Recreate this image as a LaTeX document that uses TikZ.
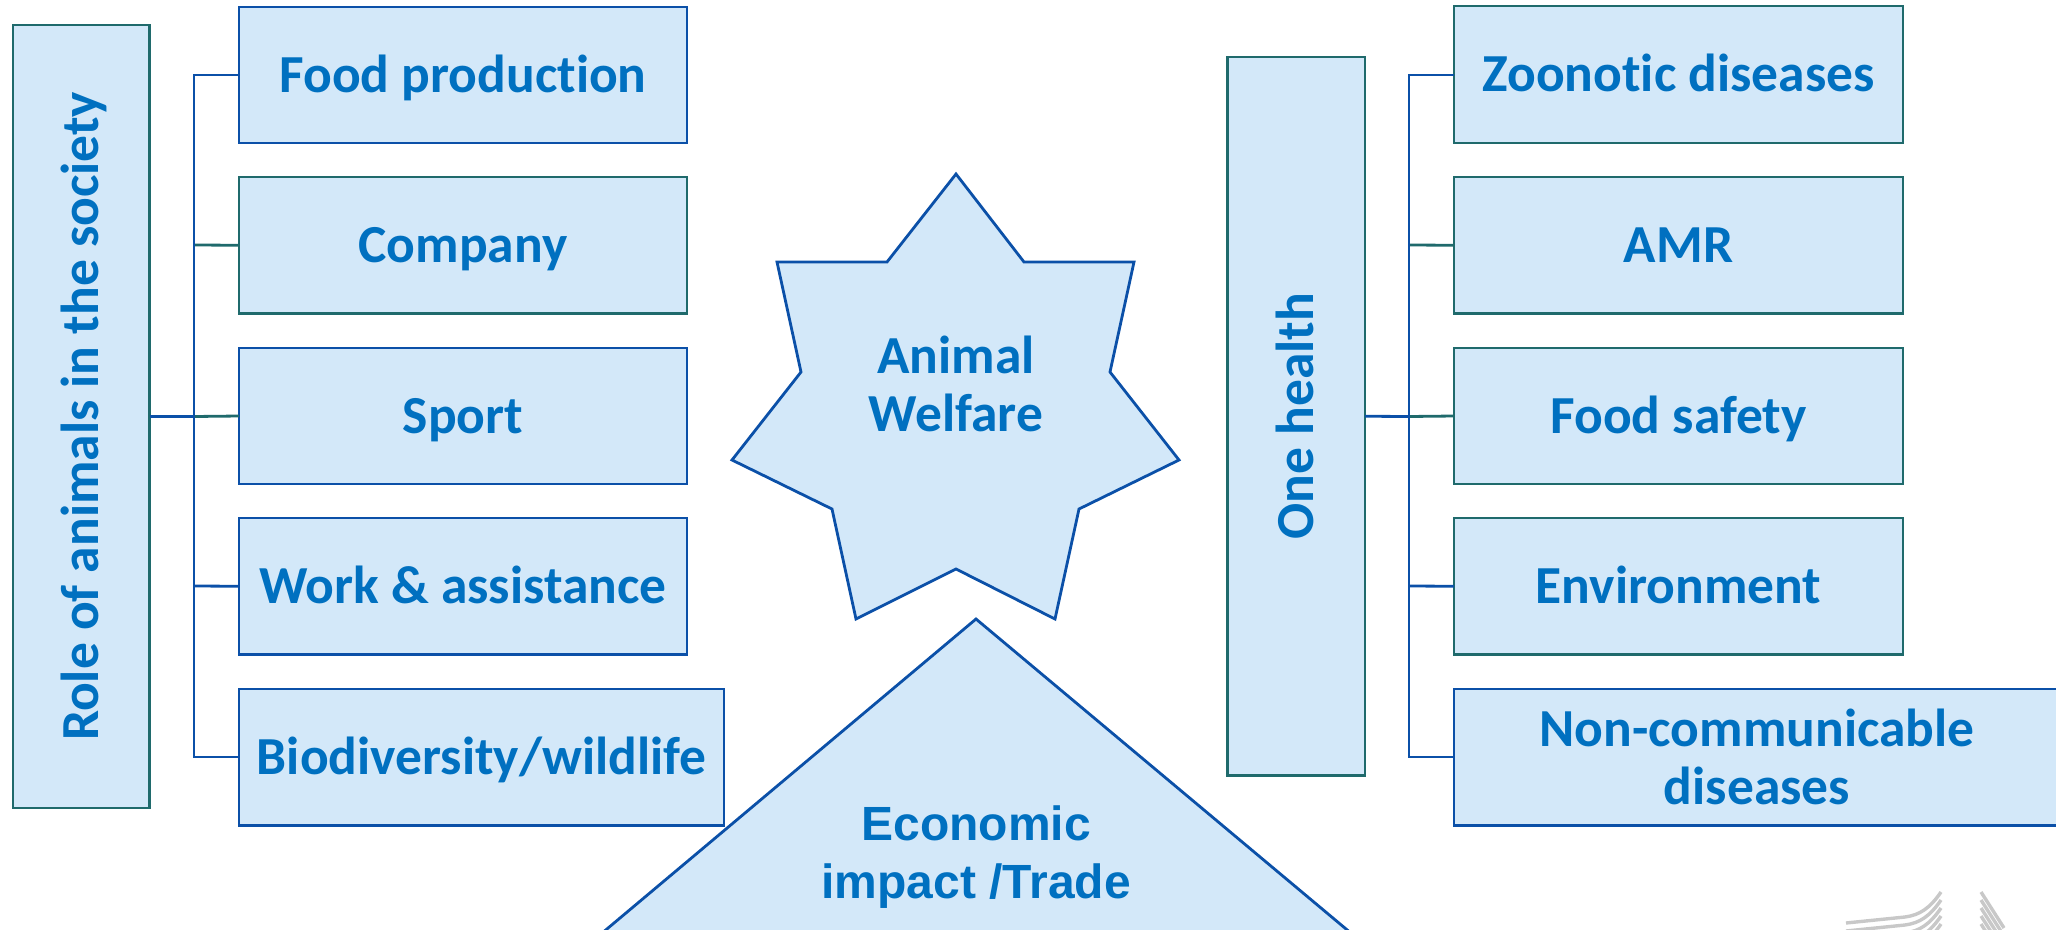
\documentclass[tikz,border=0pt]{standalone}
\usepackage{fontspec}
\usepackage{graphicx}
\setmainfont{Carlito}[Ligatures=NoCommon]
\newfontfamily\arialf{Liberation Sans}
\definecolor{fillblue}{HTML}{D3E8F9}
\definecolor{edgeblue}{HTML}{0B50A8}
\definecolor{edgeteal}{HTML}{1F6A6C}
\definecolor{textblue}{HTML}{0070C0}
\definecolor{logogray}{HTML}{C8C8C8}
\tikzset{
  x=1pt,y=-1pt,
  lbl/.style={font=\fontsize{53.5}{58}\selectfont\bfseries,text=textblue,align=center},
  boxbase/.style={lbl,fill=fillblue,line width=2.8pt,inner sep=0pt,outer sep=0pt},
  bluebox/.style={boxbase,draw=edgeblue},
  tealbox/.style={boxbase,draw=edgeteal},
  oneline/.style={text height=34.5pt,text depth=0pt},
  bluelink/.style={draw=edgeblue,line width=2.8pt},
  teallink/.style={draw=edgeteal,line width=2.8pt},
  logoline/.style={draw=logogray,line width=3.4pt},
}
\newcommand{\bx}[7]{%
  \pgfmathsetmacro{\cxx}{(#3+#5)/2}\pgfmathsetmacro{\cyy}{(#4+#6)/2}%
  \pgfmathsetmacro{\wdd}{#5-#3}\pgfmathsetmacro{\htt}{#6-#4}%
  \node[#1,minimum width=\wdd pt,minimum height=\htt pt] (#2) at (\cxx,\cyy) {#7};}
\begin{document}
\begin{tikzpicture}
\useasboundingbox (0,0) rectangle (2056,929);
\clip (0,0) rectangle (2056,929);
\bx{tealbox}{role}{13}{25}{149.5}{808}{\hspace*{5pt}\rotatebox{90}{Role of animals in the society}}
\bx{bluebox,oneline}{food}{239}{7}{687}{143}{Food production}
\bx{tealbox,oneline}{company}{239}{177}{687}{313.5}{Company}
\bx{bluebox,oneline}{sport}{239}{348}{687}{484}{Sport}
\bx{bluebox,oneline}{work}{239}{518}{687}{654.5}{Work \& assistance}
\bx{bluebox,oneline}{bio}{239}{689}{724}{825.5}{Biodiversity/wildlife}
\bx{tealbox}{health}{1227.5}{57}{1365}{775.5}{\rotatebox{90}{One health}\hspace*{2pt}}
\bx{tealbox,oneline}{zoo}{1454}{6}{1903}{143}{Zoonotic diseases}
\bx{tealbox,oneline}{amr}{1454}{177}{1903}{313.5}{AMR}
\bx{tealbox,oneline}{safety}{1454}{348}{1903}{484}{Food safety}
\bx{tealbox,oneline}{env}{1454}{518}{1903}{654.5}{Environment}
\bx{bluebox}{noncomm}{1454}{689}{2060}{825.5}{Non-communicable\\diseases}
% left tree
\coordinate (ltop) at (194,75);
\coordinate (lbot) at (194,757);
\coordinate (lmid) at (194,416.5);
\coordinate (lcom) at (194,245);
\coordinate (lwrk) at (194,586);
\draw[bluelink] (role.east) -- (lmid);
\draw[teallink] (lmid) -- (sport.west);
\draw[teallink] (lcom) -- (company.west);
\draw[bluelink] (lwrk) -- (work.west);
\draw[bluelink] (food.west |- ltop) -- (ltop) -- (lbot) -- (bio.west |- lbot);
% right tree
\coordinate (rtop) at (1409,75);
\coordinate (rbot) at (1409,757);
\coordinate (rmid) at (1409,416.5);
\coordinate (rcom) at (1409,245);
\coordinate (rwrk) at (1409,586);
\draw[bluelink] (health.east) -- (rmid);
\draw[teallink] (rmid) -- (safety.west);
\draw[teallink] (rcom) -- (amr.west);
\draw[bluelink] (rwrk) -- (env.west);
\draw[bluelink] (zoo.west |- rtop) -- (rtop) -- (rbot) -- (noncomm.west |- rbot);
% star
\draw[fill=fillblue,draw=edgeblue,line width=2.8pt,line join=miter]
  (956,174) -- (1024,262) -- (1134,262) -- (1110,372) -- (1179,460) -- (1079,509)
  -- (1055,619) -- (956,569) -- (856,619) -- (832,509) -- (732,460) -- (801,372)
  -- (777,262) -- (887,262) -- cycle;
\node[lbl] (star) at (956,384) {Animal\\Welfare};
% triangle
\draw[fill=fillblue,draw=edgeblue,line width=2.8pt,line join=miter]
  (976,619) -- (1358,939) -- (595,939) -- cycle;
\node[lbl,font=\arialf\fontsize{48}{58}\selectfont\bfseries] (trade) at (976,857) {Economic\\impact /Trade};
% logo
\foreach \d in {0,8,16,24,32}{
  \draw[logoline] (1846,923+\d) -- (1905,917+\d) .. controls (1920,915+\d) and (1930,908+\d) .. (1941,892+\d);
}
\foreach \d in {0,8,16,24,32}{
  \draw[logoline] (1981,892+\d) -- (2004,928+\d);
}
\end{tikzpicture}
\end{document}
